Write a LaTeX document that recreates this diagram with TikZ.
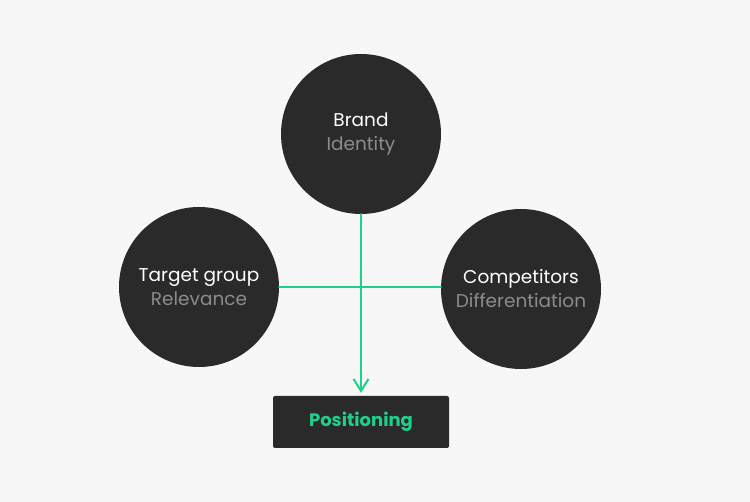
\documentclass[tikz,border=0pt]{standalone}
\usepackage{fontspec}
\setmainfont{Poppins}
\usetikzlibrary{arrows.meta}
\definecolor{bgcol}{HTML}{F7F7F7}
\definecolor{dark}{HTML}{2A2A2A}
\definecolor{mint}{HTML}{1FD08A}
\definecolor{subgrey}{HTML}{8C8C8C}
\tikzset{
  bubble/.style={circle, fill=dark, minimum size=160pt, inner sep=0pt, align=center,
    text=white, font=\fontsize{18.5}{24}\selectfont},
  posbox/.style={rectangle, fill=dark, rounded corners=2pt, minimum width=176pt,
    minimum height=52pt, text=mint, font=\fontsize{18}{20}\selectfont\bfseries},
  link/.style={draw=mint, line width=2pt}
}
\begin{document}
\begin{tikzpicture}[x=1pt, y=-1pt, line join=round, line cap=round, >={Straight Barb[length=12pt,width=15pt]}]
		\fill[bgcol] (0,0) rectangle (750,502);
		\useasboundingbox (0,0) rectangle (750,502);
		\node[bubble] (brand) at (361,134) {Brand\\\color{subgrey}Identity};
		\node[bubble] (target) at (199,287) {Target group\\\color{subgrey}Relevance};
		\node[bubble] (comp) at (521,289) {Competitors\\\color{subgrey}Differentiation};
		\node[posbox] (pos) at (361,422) {Positioning};
		\draw[link] (target.east) -- (comp.west |- target.east);
		\draw[link,->,shorten >=3pt] (brand.south) -- (pos.north);
		\end{tikzpicture}
\end{document}
